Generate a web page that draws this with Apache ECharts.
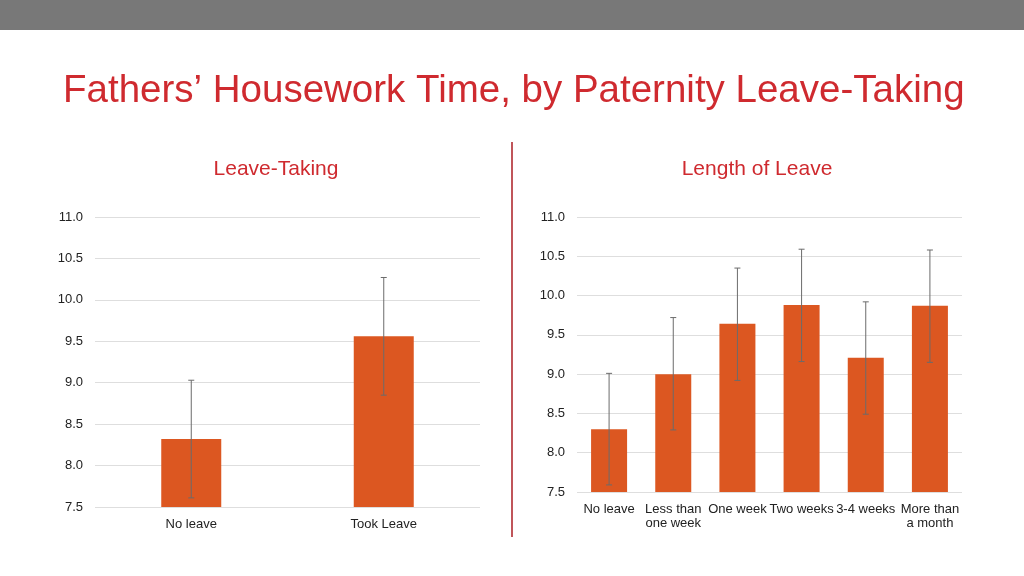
<!DOCTYPE html>
<html>
<head>
<meta charset="utf-8">
<script src="https://cdn.jsdelivr.net/npm/echarts@6/dist/echarts.min.js"></script>
<style>
  html, body { margin: 0; padding: 0; background: #fff; }
  #chart { width: 1024px; height: 576px; }
</style>
</head>
<body>
<div id="chart"></div>
<script>
// 左图：是否休假
var leaveCats = ['No leave', 'Took Leave'];
var leaveMean = [8.32, 9.56];
var leaveLow = [7.61, 8.85];
var leaveHigh = [9.03, 10.27];

// 右图：休假时长
var lengthCats = ['No leave', 'Less than\none week', 'One week', 'Two weeks', '3-4 weeks', 'More than\na month'];
var lengthMean = [8.30, 9.00, 9.64, 9.88, 9.21, 9.87];
var lengthLow = [7.59, 8.29, 8.92, 9.16, 8.49, 9.15];
var lengthHigh = [9.01, 9.72, 10.35, 10.59, 9.92, 10.58];

var font = '"Liberation Sans", Arial, sans-serif';
var red = '#cf2a2f';
var barColor = '#dc5721';

var chart = echarts.init(document.getElementById('chart'));

function errData(low, high) {
  return low.map(function (l, i) { return [i, l, high[i]]; });
}

function errorBar(xi, yi) {
  return {
    type: 'custom',
    xAxisIndex: xi,
    yAxisIndex: yi,
    z: 10,
    renderItem: function (params, api) {
      var top = api.coord([api.value(0), api.value(2)]);
      var bot = api.coord([api.value(0), api.value(1)]);
      var cap = 3;
      var st = { stroke: '#6b6b6b', lineWidth: 1 };
      return {
        type: 'group',
        children: [
          { type: 'line', shape: { x1: top[0], y1: top[1], x2: bot[0], y2: bot[1] }, style: st },
          { type: 'line', shape: { x1: top[0] - cap, y1: top[1], x2: top[0] + cap, y2: top[1] }, style: st },
          { type: 'line', shape: { x1: bot[0] - cap, y1: bot[1], x2: bot[0] + cap, y2: bot[1] }, style: st }
        ]
      };
    },
    encode: { x: 0, y: [1, 2] },
    data: yi === 0 ? errData(leaveLow, leaveHigh) : errData(lengthLow, lengthHigh)
  };
}

function yAxis(idx) {
  return {
    type: 'value',
    gridIndex: idx,
    min: 7.5,
    max: 11,
    interval: 0.5,
    axisLine: { show: false },
    axisTick: { show: false },
    axisLabel: {
      color: '#222',
      fontSize: 13,
      fontFamily: font,
      margin: 12,
      formatter: function (v) { return v.toFixed(1); }
    },
    splitLine: { lineStyle: { color: '#dedede', width: 1 } }
  };
}

function xAxis(idx, cats) {
  return {
    type: 'category',
    gridIndex: idx,
    data: cats,
    axisLine: { show: false },
    axisTick: { show: false },
    axisLabel: {
      color: '#222',
      fontSize: 13,
      fontFamily: font,
      margin: 10,
      lineHeight: 14,
      interval: 0
    }
  };
}

var option = {
  animation: false,
  backgroundColor: '#fff',
  title: [
    { text: 'Fathers\u2019 Housework Time, by Paternity Leave-Taking', left: 58, top: 67,
      textStyle: { color: red, fontSize: 38.5, fontWeight: 'normal', fontFamily: font } },
    { text: 'Leave-Taking', left: 271, top: 154, textAlign: 'center',
      textStyle: { color: red, fontSize: 21, fontWeight: 'normal', fontFamily: font } },
    { text: 'Length of Leave', left: 752, top: 154, textAlign: 'center',
      textStyle: { color: red, fontSize: 21, fontWeight: 'normal', fontFamily: font } }
  ],
  graphic: [
    { type: 'rect', left: 0, top: 0, shape: { width: 1024, height: 30 }, style: { fill: '#787878' } },
    { type: 'line', shape: { x1: 512, y1: 142, x2: 512, y2: 537 }, style: { stroke: '#c0555a', lineWidth: 2 } }
  ],
  grid: [
    { left: 95, top: 217, width: 385, bottom: 69 },
    { left: 577, top: 217, width: 385, bottom: 84 }
  ],
  xAxis: [xAxis(0, leaveCats), xAxis(1, lengthCats)],
  yAxis: [yAxis(0), yAxis(1)],
  series: [
    { type: 'bar', xAxisIndex: 0, yAxisIndex: 0, data: leaveMean, barWidth: 60,
      itemStyle: { color: barColor } },
    { type: 'bar', xAxisIndex: 1, yAxisIndex: 1, data: lengthMean, barWidth: 36,
      itemStyle: { color: barColor } },
    errorBar(0, 0),
    errorBar(1, 1)
  ]
};

chart.setOption(option);
</script>
</body>
</html>
